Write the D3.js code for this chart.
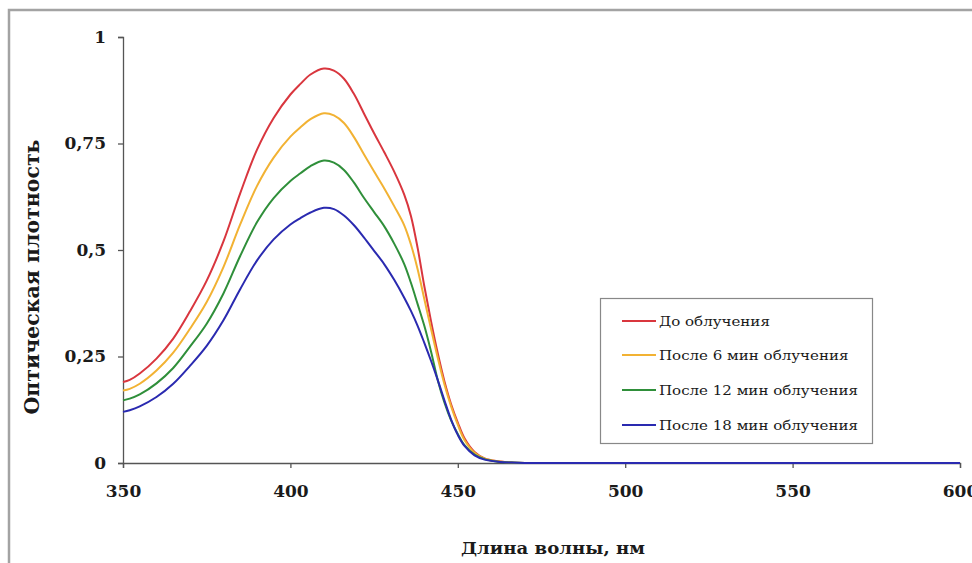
<!DOCTYPE html>
<html><head><meta charset="utf-8">
<script src="https://cdn.jsdelivr.net/npm/d3@7"></script>
<style>body{margin:0;background:#fff}svg{display:block}</style>
</head><body><svg id="c" width="972" height="563"></svg>
<script>
const wavelengths = [350,352,355,360,365,370,375,380,385,390,395,400,403,406,410,413,416,419,422,425,428,431,434,436,438,440,442,444,446,448,450,452,455,458,462,466,470,480,500,520,540,560,580,600];
const before   = [.19,.195,.21,.245,.292,.356,.428,.52,.633,.735,.81,.865,.89,.912,.926,.921,.902,.866,.82,.774,.73,.684,.63,.58,.505,.415,.333,.258,.192,.138,.095,.058,.026,.011,.004,.001,0,0,0,0,0,0,0,0];
const after6   = [.17,.174,.186,.217,.259,.315,.378,.46,.56,.65,.717,.766,.788,.807,.821,.816,.798,.765,.724,.684,.645,.603,.558,.513,.455,.385,.315,.247,.185,.133,.09,.054,.024,.01,.004,.001,0,0,0,0,0,0,0,0];
const after12  = [.147,.151,.161,.187,.223,.273,.327,.398,.486,.565,.622,.662,.68,.697,.71,.705,.688,.658,.622,.589,.556,.515,.467,.423,.373,.322,.262,.195,.142,.1,.068,.042,.02,.009,.003,.001,0,0,0,0,0,0,0,0];
const after18  = [.12,.124,.133,.155,.186,.228,.275,.335,.408,.475,.525,.56,.575,.588,.599,.596,.581,.558,.529,.498,.467,.43,.388,.357,.322,.282,.24,.195,.147,.102,.066,.04,.018,.008,.003,.001,0,0,0,0,0,0,0,0];
const seriesNames = ["До облучения","После 6 мин облучения","После 12 мин облучения","После 18 мин облучения"];
const seriesColors = ["#d9363e","#f2b233","#2f8f3a","#2a2ab0"];
const xTicks = [350,400,450,500,550,600];
const yTicks = [0,0.25,0.5,0.75,1];
const yTickLabels = ["0","0,25","0,5","0,75","1"];
const xTitle = "Длина волны, нм";
const yTitle = "Оптическая плотность";

const allSeries = [before, after6, after12, after18];
const svg = d3.select("#c");
const font = "'DejaVu Serif', 'Liberation Serif', serif";

// outer frame
svg.append("path").attr("d","M9,563 V10 H972").attr("fill","none").attr("stroke","#a3a3a3").attr("stroke-width",2.5);

const x = d3.scaleLinear().domain([350,600]).range([123,960]);
const y = d3.scaleLinear().domain([0,1]).range([463,37]);

const xAxis = svg.append("g").attr("transform","translate(0,463)")
  .call(d3.axisBottom(x).tickValues(xTicks).tickSize(5).tickPadding(17).tickFormat(d3.format("d")));
const yAxis = svg.append("g").attr("transform","translate(123,0)")
  .call(d3.axisLeft(y).tickValues(yTicks).tickSize(5).tickPadding(12).tickFormat((d,i)=>yTickLabels[i]));
[xAxis,yAxis].forEach(g=>{
  g.select(".domain").attr("stroke","#555").attr("stroke-width",1.3);
  g.selectAll(".tick line").attr("stroke","#555").attr("stroke-width",1.3);
  g.selectAll(".tick text").attr("fill","#1a1a1a").style("font-family",font).style("font-weight","bold").style("font-size","17px");
});

const line = d3.line().x((d,i)=>x(wavelengths[i])).y(d=>y(d)).curve(d3.curveCatmullRom.alpha(0.5));
allSeries.forEach((s,k)=>{
  svg.append("path").datum(s).attr("d",line).attr("fill","none")
    .attr("stroke",seriesColors[k]).attr("stroke-width",2).attr("stroke-linejoin","round");
});

// legend
const lg = svg.append("g");
lg.append("rect").attr("x",600.5).attr("y",298.5).attr("width",272).attr("height",145)
  .attr("fill","#fff").attr("stroke","#888").attr("stroke-width",1.2);
const rowsY = [321,355,390,425];
const texts = [];
seriesNames.forEach((n,k)=>{
  lg.append("line").attr("x1",622).attr("x2",656).attr("y1",rowsY[k]).attr("y2",rowsY[k])
    .attr("stroke",seriesColors[k]).attr("stroke-width",2);
  texts.push(lg.append("text").attr("x",659).attr("y",rowsY[k]).attr("dy","0.35em")
    .style("font-family",font).style("font-size","13.5px").attr("fill","#1a1a1a").text(n));
});
const widest = d3.max(texts, t=>t.node().getComputedTextLength());
const sc = 199 / widest;
texts.forEach(t=>{
  const w = t.node().getComputedTextLength();
  t.attr("textLength", w*sc).attr("lengthAdjust","spacingAndGlyphs");
});

svg.append("text").attr("x",553).attr("y",554).attr("text-anchor","middle")
  .style("font-family",font).style("font-weight","bold").style("font-size","17.5px").attr("fill","#1a1a1a")
  .attr("textLength",184).attr("lengthAdjust","spacingAndGlyphs").text(xTitle);
svg.append("text").attr("transform","translate(39,277) rotate(-90)").attr("text-anchor","middle")
  .style("font-family",font).style("font-weight","bold").style("font-size","20px").attr("fill","#1a1a1a")
  .attr("textLength",275).attr("lengthAdjust","spacingAndGlyphs").text(yTitle);
</script></body></html>
